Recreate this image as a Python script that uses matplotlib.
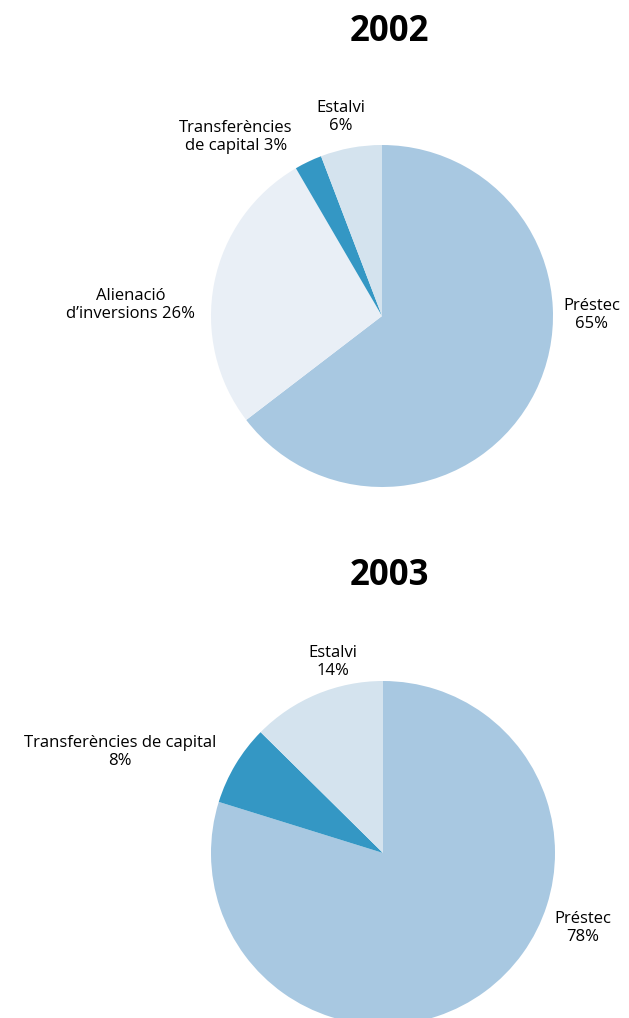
import matplotlib.pyplot as plt

plt.rcParams['font.family'] = ['Open Sans', 'DejaVu Sans']

# --- 2002 ---
labels_2002 = ['Préstec\n65%', 'Alienació\nd’inversions 26%', 'Transferències\nde capital 3%', 'Estalvi\n6%']
shares_2002 = [64.6, 27.0, 2.6, 5.8]
colors_2002 = ['#a8c8e1', '#e9eff6', '#3497c4', '#d4e3ee']

# --- 2003 ---
labels_2003 = ['Préstec\n78%', 'Transferències de capital\n8%', 'Estalvi\n14%']
shares_2003 = [79.8, 7.6, 12.6]
colors_2003 = ['#a8c8e1', '#3497c4', '#d4e3ee']

W, H = 629, 1018
fig = plt.figure(figsize=(W / 100, H / 100), dpi=100)
ax = fig.add_axes([0, 0, 1, 1])


def py(y):
    # pixel row (top-down) to data y
    return H - y


ax.pie(shares_2002, colors=colors_2002, startangle=90, counterclock=False,
       center=(382, py(316)), radius=171, frame=True,
       wedgeprops=dict(linewidth=0))
ax.pie(shares_2003, colors=colors_2003, startangle=90, counterclock=False,
       center=(383, py(853)), radius=172, frame=True,
       wedgeprops=dict(linewidth=0))

ax.set_xlim(0, W)
ax.set_ylim(0, H)
ax.set_aspect('equal')
ax.axis('off')

ax.text(389, py(32), '2002', ha='center', va='center', fontsize=25, fontweight='bold')
ax.text(389, py(576), '2003', ha='center', va='center', fontsize=25, fontweight='bold')

label_pos_2002 = [(592, 315), (131, 305), (236, 137), (341, 117)]
label_pos_2003 = [(583, 928), (120, 752), (333, 662)]

for txt, (x, y) in zip(labels_2002, label_pos_2002):
    ax.text(x, py(y), txt, ha='center', va='center', fontsize=12, linespacing=1.2)
for txt, (x, y) in zip(labels_2003, label_pos_2003):
    ax.text(x, py(y), txt, ha='center', va='center', fontsize=12, linespacing=1.2)

fig.savefig('out.png', dpi=100)
